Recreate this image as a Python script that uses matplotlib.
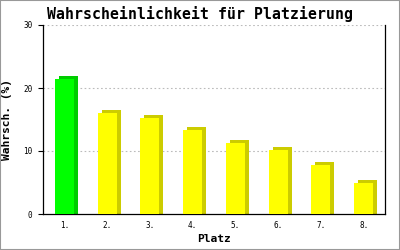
import matplotlib
matplotlib.use('Agg')
import matplotlib.pyplot as plt
import matplotlib.transforms as mtransforms
from matplotlib.patches import Rectangle

places = ['1.', '2.', '3.', '4.', '5.', '6.', '7.', '8.']
probabilities = [21.5, 16.1, 15.2, 13.3, 11.3, 10.2, 7.7, 4.9]
yticks = [0, 10, 20, 30]

front_colors = ['#00ff00'] + ['#ffff00'] * 7
side_colors = ['#00cc00'] + ['#cccc00'] * 7

plt.rcParams['font.family'] = ['DejaVu Sans Mono']

fig = plt.figure(figsize=(4, 2.5), dpi=100)
ax = fig.add_axes([43 / 400, 36 / 250, 342 / 400, 189 / 250])

x = list(range(len(places)))
# darker copy shifted up/right gives the 3D side and top
dx, dy = 4, 3  # pixels
shadow = ax.transData + mtransforms.ScaledTranslation(dx / 100, dy / 100, fig.dpi_scale_trans)
lift = dy / (189 / 30)
ax.bar(x, [p + lift for p in probabilities], bottom=-lift, width=0.44,
       color=side_colors, transform=shadow, zorder=2)
ax.bar(x, probabilities, width=0.44, color=front_colors, zorder=3)

ax.set_xlim(-0.5, 7.5)
ax.set_ylim(0, 30)
ax.set_yticks(yticks)
ax.set_xticks(x)
ax.set_xticklabels(places)
ax.tick_params(axis='y', length=3.6, width=0.8, pad=4, labelsize=5.5)
ax.tick_params(axis='x', length=0, pad=5, labelsize=5.5)

for v in yticks[1:]:
    ax.axhline(v, color='#bbbbbb', linewidth=0.8, linestyle=(0, (1.5, 2.2)), zorder=1)

ax.spines['top'].set_visible(False)
for side in ['left', 'bottom', 'right']:
    ax.spines[side].set_linewidth(0.9)

ax.set_xlabel('Platz', fontsize=8.1, fontweight='bold', labelpad=3)
ax.set_ylabel('Wahrsch. (%)', fontsize=8.1, fontweight='bold')
ax.yaxis.set_label_coords(-(43 - 12) / 342, 0.5)
fig.text(0.5, 1 - 14 / 250, 'Wahrscheinlichkeit für Platzierung', ha='center', va='center',
         fontsize=10.7, fontweight='bold')

fig.patches.append(Rectangle((0, 0), 1, 1, transform=fig.transFigure, fill=False,
                             edgecolor='#999999', linewidth=1.5))

fig.savefig('out.png', dpi=100)
